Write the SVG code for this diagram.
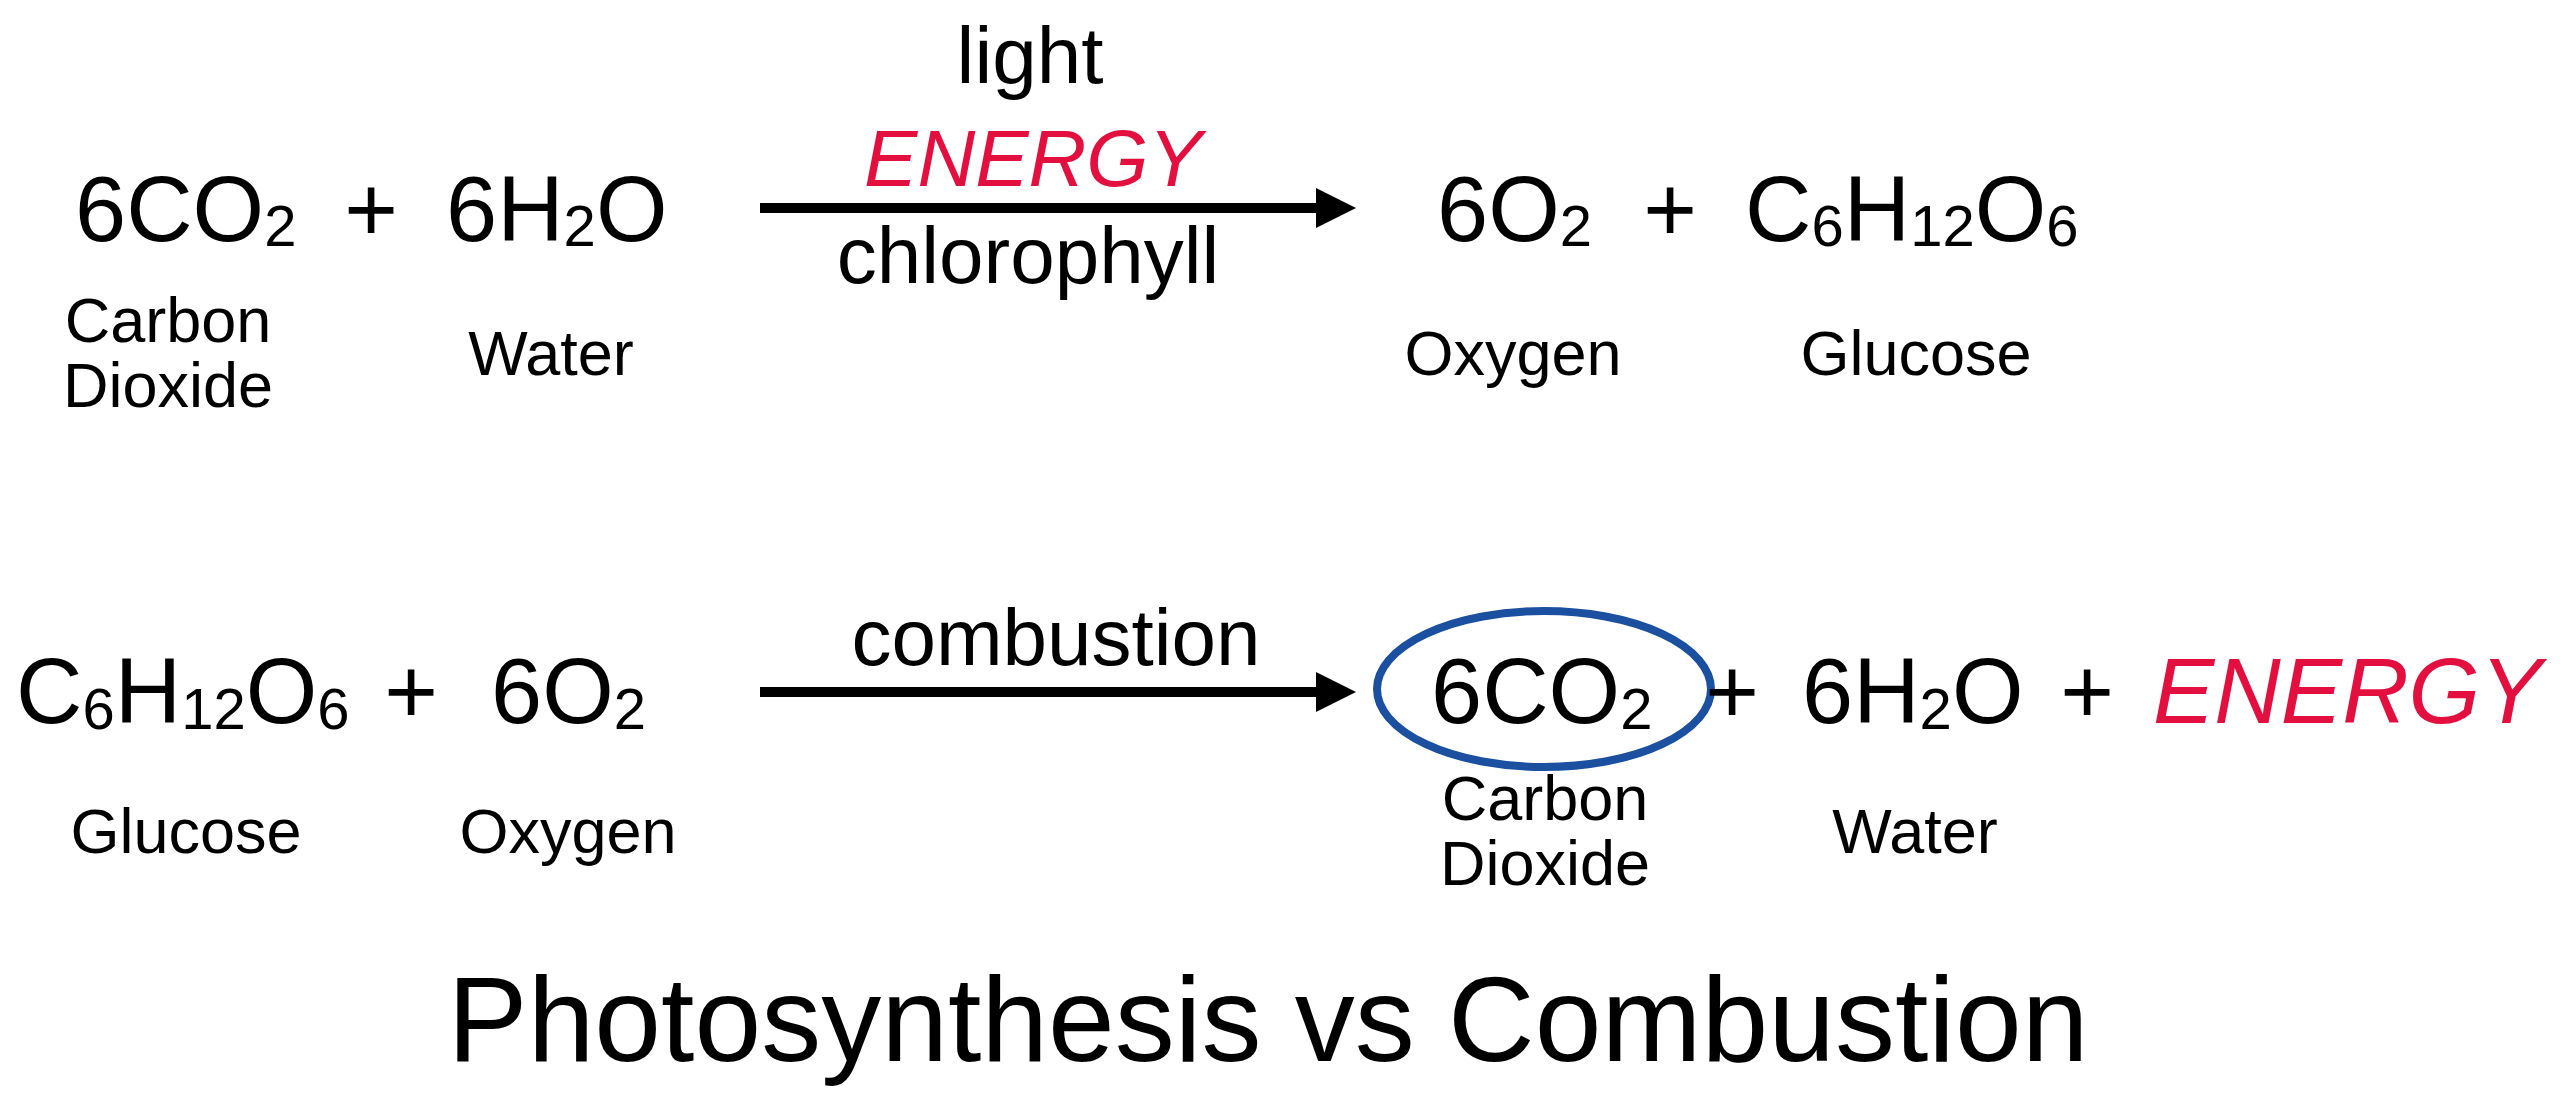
<svg xmlns="http://www.w3.org/2000/svg" width="2564" height="1112" viewBox="0 0 2564 1112">
<style>
text{font-family:"Liberation Sans",Arial,Helvetica,sans-serif;fill:#000}
.f{font-size:92px}
.s{font-size:58px}
.lbl{font-size:63px;text-anchor:middle}
.arr{font-size:80px;text-anchor:middle}
.en{fill:#e3103f;font-style:italic}
.plus{font-size:92px;text-anchor:middle}
.title{font-size:120px;text-anchor:middle}
.conn{stroke:#000;stroke-width:10;fill:none}
</style>
<defs>
<marker id="ah" markerUnits="userSpaceOnUse" viewBox="0 0 40 40" markerWidth="40" markerHeight="40" refX="1" refY="20" orient="auto">
<path d="M0,0 L40,20 L0,40 Z" fill="#000"/>
</marker>
</defs>
<rect width="2564" height="1112" fill="#fff"/>

<g id="connectors">
<line class="conn" x1="760" y1="208" x2="1317" y2="208" marker-end="url(#ah)"/>
<line class="conn" x1="760" y1="692" x2="1317" y2="692" marker-end="url(#ah)"/>
</g>

<g id="photo-co2">
<text class="f" x="75" y="241">6CO<tspan class="s" dy="5">2</tspan></text>
<text class="lbl" x="168" y="342">Carbon</text>
<text class="lbl" x="168" y="407">Dioxide</text>
</g>
<g id="photo-plus1"><text class="plus" x="371" y="241">+</text></g>
<g id="photo-h2o">
<text class="f" x="446" y="241">6H<tspan class="s" dy="5">2</tspan><tspan dy="-5">O</tspan></text>
<text class="lbl" x="551" y="375">Water</text>
</g>
<g id="photo-arrow-labels">
<text class="arr" x="1030" y="83">light</text>
<text class="arr en" x="1033" y="186">ENERGY</text>
<text class="arr" x="1028" y="283">chlorophyll</text>
</g>
<g id="photo-o2">
<text class="f" x="1437" y="241">6O<tspan class="s" dy="5">2</tspan></text>
<text class="lbl" x="1513" y="375">Oxygen</text>
</g>
<g id="photo-plus2"><text class="plus" x="1670" y="241">+</text></g>
<g id="photo-glucose">
<text class="f" x="1745" y="241">C<tspan class="s" dy="5">6</tspan><tspan dy="-5">H</tspan><tspan class="s" dy="5">12</tspan><tspan dy="-5">O</tspan><tspan class="s" dy="5">6</tspan></text>
<text class="lbl" x="1916" y="375">Glucose</text>
</g>

<g id="comb-glucose">
<text class="f" x="16" y="723">C<tspan class="s" dy="6">6</tspan><tspan dy="-6">H</tspan><tspan class="s" dy="6">12</tspan><tspan dy="-6">O</tspan><tspan class="s" dy="6">6</tspan></text>
<text class="lbl" x="186" y="853">Glucose</text>
</g>
<g id="comb-plus1"><text class="plus" x="411" y="723">+</text></g>
<g id="comb-o2">
<text class="f" x="491" y="723">6O<tspan class="s" dy="6">2</tspan></text>
<text class="lbl" x="568" y="853">Oxygen</text>
</g>
<g id="comb-arrow-label">
<text class="arr" x="1056" y="665">combustion</text>
</g>
<g id="comb-co2">
<ellipse cx="1544" cy="689" rx="167" ry="78" fill="none" stroke="#1b50a0" stroke-width="8"/>
<text class="f" x="1431" y="723">6CO<tspan class="s" dy="6">2</tspan></text>
<text class="lbl" x="1545" y="820">Carbon</text>
<text class="lbl" x="1545" y="885">Dioxide</text>
</g>
<g id="comb-plus2"><text class="plus" x="1732" y="723">+</text></g>
<g id="comb-h2o">
<text class="f" x="1802" y="723">6H<tspan class="s" dy="6">2</tspan><tspan dy="-6">O</tspan></text>
<text class="lbl" x="1915" y="853">Water</text>
</g>
<g id="comb-plus3"><text class="plus" x="2087" y="723">+</text></g>
<g id="comb-energy">
<text class="f en" x="2153" y="723">ENERGY</text>
</g>

<g id="title">
<text class="title" x="1268" y="1061">Photosynthesis vs Combustion</text>
</g>
</svg>
